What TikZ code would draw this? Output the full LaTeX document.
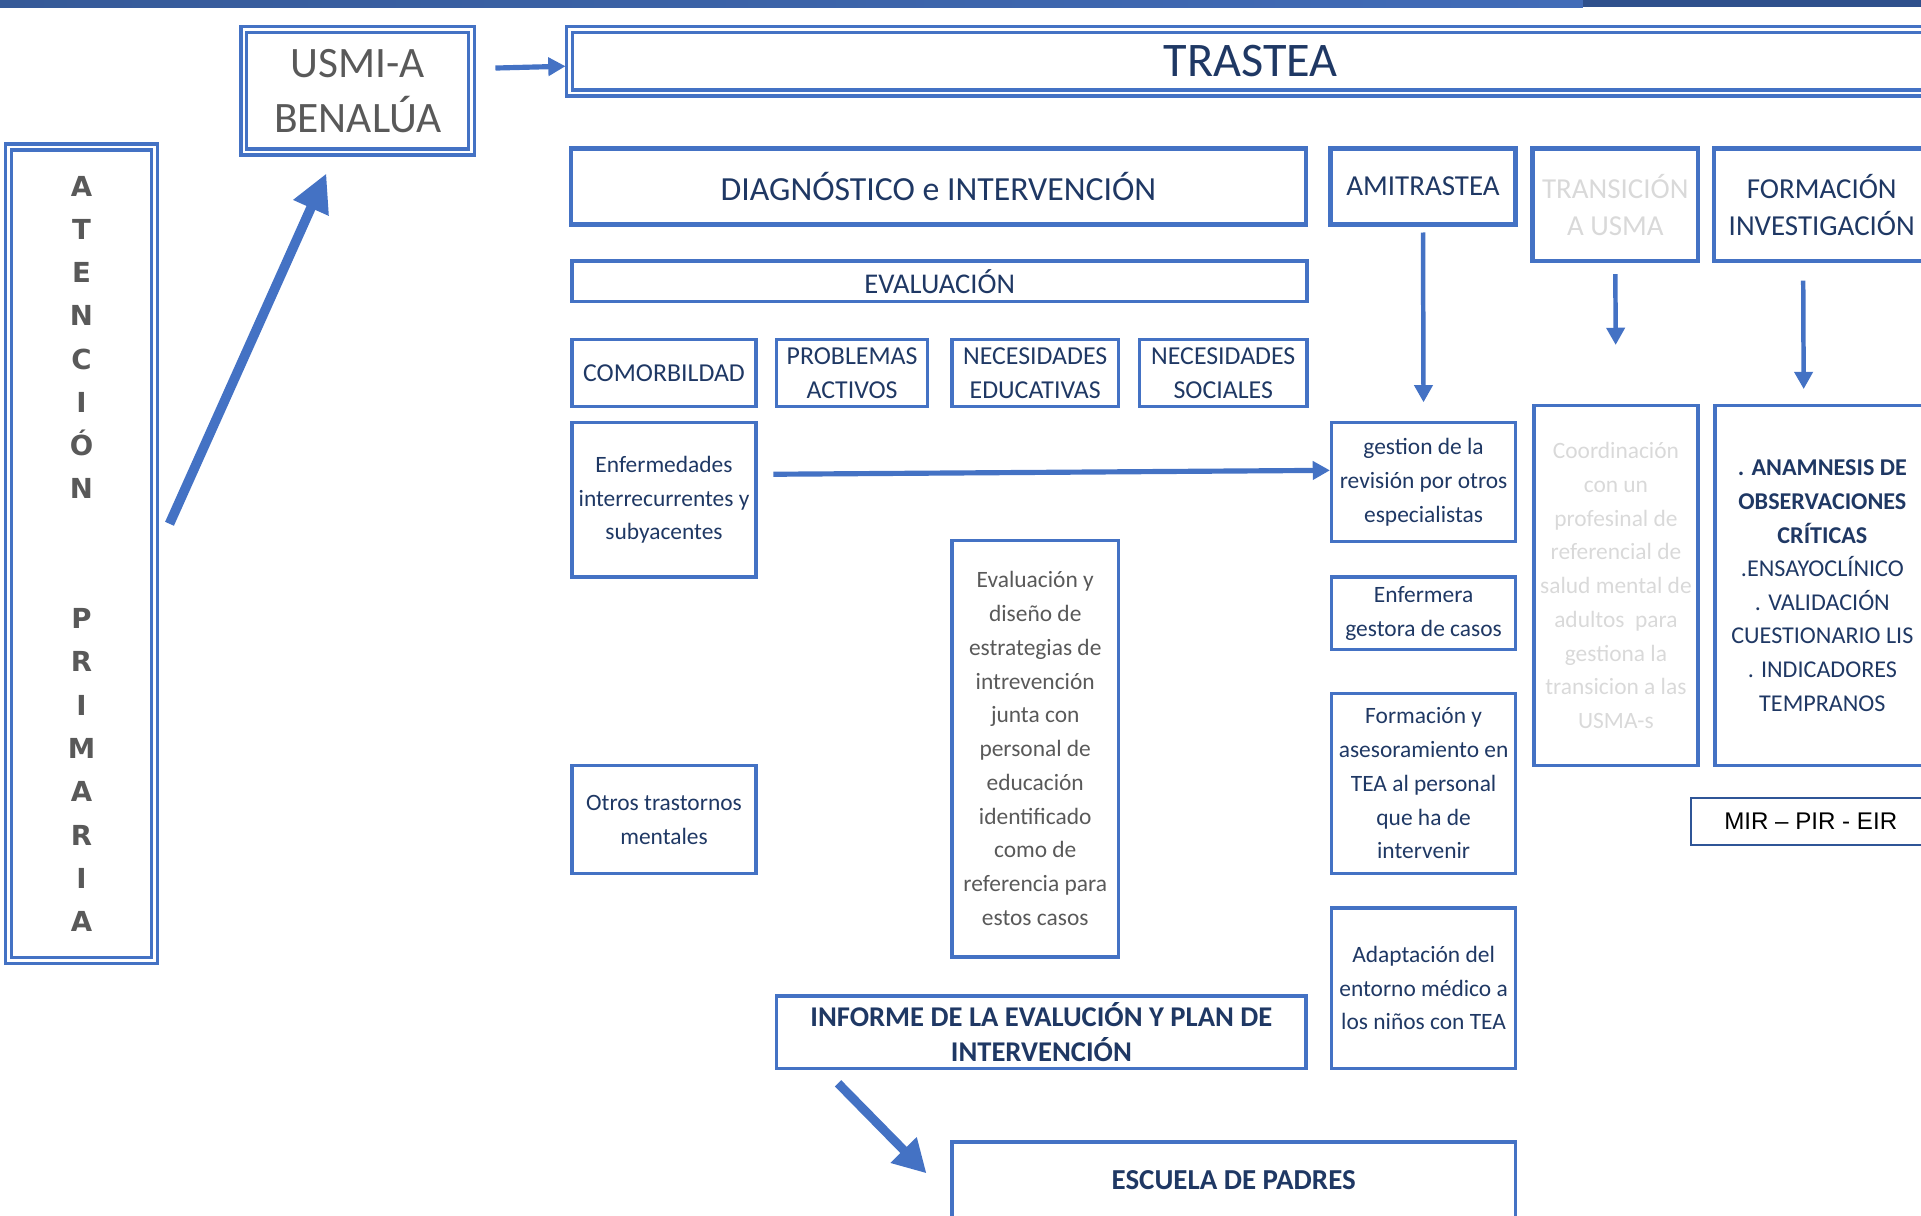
\documentclass[tikz,border=0pt]{standalone}
\usepackage{fontspec}
\setmainfont{Carlito}
\newfontfamily\arialfont{Liberation Sans}
\newfontfamily\verdfont{DejaVu Sans}
\usetikzlibrary{arrows.meta}
\definecolor{boxblue}{RGB}{68,114,196}
\definecolor{navy}{RGB}{31,56,100}
\definecolor{greytext}{RGB}{89,89,89}
\definecolor{paletext}{RGB}{217,217,217}
\definecolor{mirblue}{RGB}{47,85,151}
\definecolor{barleft}{RGB}{54,90,152}
\definecolor{barmid}{RGB}{66,108,184}
\definecolor{bardark}{RGB}{47,80,140}
\begin{document}
\begin{tikzpicture}[x=0.0125cm,y=-0.0125cm,
  box/.style 2 args={draw=boxblue,line width=1pt,inner sep=1pt,align=center,text=navy,
    minimum width=#1*0.0125cm,minimum height=#2*0.0125cm},
  dbl/.style={double=white,double distance=0.7pt},
  hdr/.style={line width=1.4pt,font=\fontsize{8.4}{10.7}\selectfont},
  cat/.style={font=\fontsize{7.5}{10}\selectfont},
  txt/.style={font=\fontsize{6.8}{9.8}\selectfont},
  arr/.style={draw=boxblue,line width=1.5pt,-{Triangle[length=5pt,width=5.2pt]}},
  bigarr/.style={draw=boxblue,line width=2.8pt,-{Triangle[length=11pt,width=10.5pt]}}]
\useasboundingbox (0,0) rectangle (1568,992);
\clip (0,0) rectangle (1568,992);
\shade[left color=barleft,right color=barmid] (0,0) rectangle (1292,6);
\fill[bardark] (1292,0) rectangle (1568,6);

\node[box={186}{100},dbl,text=greytext,font=\fontsize{12.6}{16}\selectfont] (usmi) at (292,74) {USMI-A\\BENALÚA};
\node[box={1112}{52},dbl,font=\fontsize{14}{16}\selectfont] (trastea) at (1021,50) {TRASTEA};
\node[box={119}{664},dbl,text=greytext,font=\verdfont\bfseries\fontsize{8}{12.56}\selectfont] (aten) at (66.5,452)
  {A\\T\\E\\N\\C\\I\\Ó\\N\\[25.1pt]P\\R\\I\\M\\A\\R\\I\\A};

\node[box={600}{62},hdr,font=\fontsize{9.8}{12}\selectfont] (diag) at (766,152) {DIAGNÓSTICO e INTERVENCIÓN};
\node[box={151}{62},hdr] (ami) at (1161.5,152) {AMITRASTEA};
\node[box={135}{92},hdr,text=paletext] (trans) at (1318.5,167) {TRANSICIÓN\\A USMA};
\node[box={176}{92},hdr] (form) at (1487,167) {FORMACIÓN\\INVESTIGACIÓN};

\node[box={600}{33},font=\fontsize{8.3}{10}\selectfont] (eval) at (767,229.5) {EVALUACIÓN};
\node[box={150}{55},cat] (como) at (542,304.5) {COMORBILDAD};
\node[box={123}{55},cat] (prob) at (695.5,304.5) {PROBLEMAS\\ACTIVOS};
\node[box={136}{55},cat] (nedu) at (845,304.5) {NECESIDADES\\EDUCATIVAS};
\node[box={137}{55},cat] (nsoc) at (998.5,304.5) {NECESIDADES\\SOCIALES};

\node[box={150}{126},txt] (enf) at (542,408) {Enfermedades\\interrecurrentes y\\subyacentes};
\node[box={150}{88},txt] (otros) at (542,669) {Otros trastornos\\mentales};
\node[box={136}{340},txt,text=greytext] (evdis) at (845,611) {Evaluación y\\diseño de\\estrategias de\\intrevención\\junta con\\personal de\\educación\\identificado\\como de\\referencia para\\estos casos};
\node[box={432}{59},font=\bfseries\fontsize{8.3}{10.3}\selectfont] (inf) at (850,842.5) {INFORME DE LA EVALUCIÓN Y PLAN DE\\INTERVENCIÓN};
\node[box={460}{62},font=\bfseries\fontsize{8.4}{10}\selectfont] (esc) at (1007,963) {ESCUELA DE PADRES};

\node[box={150}{97},txt] (gest) at (1162,393.5) {gestion de la\\revisión por otros\\especialistas};
\node[box={150}{59},txt] (enfer) at (1162,500.5) {Enfermera\\gestora de casos};
\node[box={150}{147},txt] (formas) at (1162,639.5) {Formación y\\asesoramiento en\\TEA al personal\\que ha de\\intervenir};
\node[box={150}{131},txt] (adap) at (1162,806.5) {Adaptación del\\entorno médico a\\los niños con TEA};

\node[box={134}{294},txt,text=paletext] (coord) at (1319,478) {Coordinación\\con un\\profesinal de\\referencial de\\salud mental de\\adultos~ para\\gestiona la\\transicion a las\\USMA-s};
\node[box={175}{294},font=\fontsize{7}{9.75}\selectfont] (anam) at (1487.5,478) {\textbf{. ANAMNESIS DE}\\\textbf{OBSERVACIONES}\\\textbf{CRÍTICAS}\\.ENSAYOCLÍNICO\\. VALIDACIÓN\\CUESTIONARIO LIS\\. INDICADORES\\TEMPRANOS};
\node[box={196}{39},draw=mirblue,line width=0.6pt,text=black,font=\arialfont\fontsize{7}{9}\selectfont] (mir) at (1478,670.5) {MIR – PIR - EIR};

\draw[arr,shorten <=0.225cm,shorten >=0.025cm] ([yshift=0.225cm]usmi.east) -- ([yshift=-0.05cm]trastea.west);
\draw[bigarr,shorten <=0.335cm,shorten >=0.22cm] (aten.east) -- ([xshift=0.95cm]usmi.south west);
\draw[arr,shorten <=0.16cm] ([yshift=0.26cm]enf.east) -- ([yshift=0.12cm]gest.west);
\draw[arr,line width=1.3pt,shorten <=0.06cm,shorten >=0.19cm] (ami.south) -- (gest.north);
\draw[arr,line width=1.3pt,shorten <=0.11cm,shorten >=0.6cm] (trans.south) -- (coord.north);
\draw[arr,line width=1.3pt,shorten <=0.175cm,shorten >=0.15cm] ([xshift=-0.19cm]form.south) -- ([xshift=-0.19cm]anam.north);
\draw[bigarr,line width=2.6pt,-{Triangle[length=9.5pt,width=10pt]},shorten <=0.19cm,shorten >=0.345cm] ([xshift=0.51cm]inf.south west) -- ([yshift=-0.18cm]esc.west);
\end{tikzpicture}
\end{document}
